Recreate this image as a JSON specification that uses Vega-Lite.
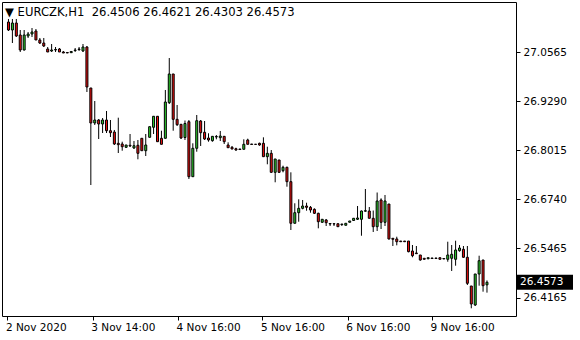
{
  "$schema": "https://vega.github.io/schema/vega-lite/v6.json",
  "autosize": "none",
  "width": 514,
  "height": 314,
  "padding": {"left": 2, "top": 2, "right": 64, "bottom": 24},
  "background": "#ffffff",
  "config": {
    "view": {"stroke": "#000000", "strokeWidth": 1},
    "axis": {"labelFont": "DejaVu Sans", "labelFontSize": 10.5, "labelColor": "#000000", "tickColor": "#000000", "grid": false, "domain": false, "title": null}
  },
  "title": {
    "text": "▼ EURCZK,H1\u00a0\u00a026.4506 26.4621 26.4303 26.4573",
    "orient": "none",
    "anchor": "start",
    "frame": "group",
    "baseline": "middle",
    "align": "left",
    "dx": 3,
    "dy": 11,
    "font": "DejaVu Sans",
    "fontSize": 11.6,
    "fontWeight": "normal",
    "color": "#000000"
  },
  "datasets": {
    "candles": [
      {"i":0,"o":27.1354,"h":27.1433,"l":27.1120,"c":27.1146},
      {"i":1,"o":27.1146,"h":27.1433,"l":27.0807,"c":27.1328},
      {"i":2,"o":27.1328,"h":27.1433,"l":27.0964,"c":27.0990},
      {"i":3,"o":27.1016,"h":27.1146,"l":27.0573,"c":27.0625},
      {"i":4,"o":27.0625,"h":27.1146,"l":27.0612,"c":27.1016},
      {"i":5,"o":27.0990,"h":27.1094,"l":27.0938,"c":27.1042},
      {"i":6,"o":27.1042,"h":27.1198,"l":27.0964,"c":27.1094},
      {"i":7,"o":27.1120,"h":27.1172,"l":27.0886,"c":27.0886},
      {"i":8,"o":27.0886,"h":27.0938,"l":27.0781,"c":27.0807},
      {"i":9,"o":27.0807,"h":27.0938,"l":27.0703,"c":27.0729},
      {"i":10,"o":27.0651,"h":27.0703,"l":27.0573,"c":27.0573},
      {"i":11,"o":27.0599,"h":27.0781,"l":27.0573,"c":27.0625},
      {"i":12,"o":27.0625,"h":27.0703,"l":27.0573,"c":27.0638},
      {"i":13,"o":27.0651,"h":27.0677,"l":27.0573,"c":27.0573},
      {"i":14,"o":27.0573,"h":27.0599,"l":27.0547,"c":27.0547},
      {"i":15,"o":27.0560,"h":27.0560,"l":27.0547,"c":27.0547},
      {"i":16,"o":27.0555,"h":27.0599,"l":27.0547,"c":27.0586},
      {"i":17,"o":27.0612,"h":27.0677,"l":27.0573,"c":27.0625},
      {"i":18,"o":27.0638,"h":27.0703,"l":27.0599,"c":27.0651},
      {"i":19,"o":27.0599,"h":27.0781,"l":27.0573,"c":27.0703},
      {"i":20,"o":27.0703,"h":27.0729,"l":26.9531,"c":26.9661},
      {"i":21,"o":26.9635,"h":26.9635,"l":26.7107,"c":26.8723},
      {"i":22,"o":26.8723,"h":26.9296,"l":26.8671,"c":26.8801},
      {"i":23,"o":26.8801,"h":26.8827,"l":26.8306,"c":26.8697},
      {"i":24,"o":26.8697,"h":26.8853,"l":26.8462,"c":26.8801},
      {"i":25,"o":26.8801,"h":26.9036,"l":26.8462,"c":26.8522},
      {"i":26,"o":26.8522,"h":26.8801,"l":26.8358,"c":26.8470},
      {"i":27,"o":26.8488,"h":26.8541,"l":26.8150,"c":26.8176},
      {"i":28,"o":26.8194,"h":26.8861,"l":26.7941,"c":26.8158},
      {"i":29,"o":26.8176,"h":26.8236,"l":26.8001,"c":26.8105},
      {"i":30,"o":26.8090,"h":26.8150,"l":26.8072,"c":26.8150},
      {"i":31,"o":26.8142,"h":26.8436,"l":26.8098,"c":26.8124},
      {"i":32,"o":26.8072,"h":26.8254,"l":26.8046,"c":26.8131},
      {"i":33,"o":26.8142,"h":26.8280,"l":26.7777,"c":26.7933},
      {"i":34,"o":26.8324,"h":26.8324,"l":26.8001,"c":26.8001},
      {"i":35,"o":26.8001,"h":26.8436,"l":26.7863,"c":26.8150},
      {"i":36,"o":26.8350,"h":26.8627,"l":26.8350,"c":26.8627},
      {"i":37,"o":26.8611,"h":26.8905,"l":26.8436,"c":26.8898},
      {"i":38,"o":26.8898,"h":26.8905,"l":26.8236,"c":26.8236},
      {"i":39,"o":26.8324,"h":26.8522,"l":26.8168,"c":26.8168},
      {"i":40,"o":26.8324,"h":26.9583,"l":26.8324,"c":26.9270},
      {"i":41,"o":26.9252,"h":27.0416,"l":26.9218,"c":27.0000},
      {"i":42,"o":27.0000,"h":27.0000,"l":26.8522,"c":26.8819},
      {"i":43,"o":26.8819,"h":26.9192,"l":26.8645,"c":26.8679},
      {"i":44,"o":26.8689,"h":26.8697,"l":26.8306,"c":26.8332},
      {"i":45,"o":26.8345,"h":26.8788,"l":26.8280,"c":26.8710},
      {"i":46,"o":26.8757,"h":26.8801,"l":26.7264,"c":26.7324},
      {"i":47,"o":26.7324,"h":26.8194,"l":26.7324,"c":26.8064},
      {"i":48,"o":26.8064,"h":26.8931,"l":26.7975,"c":26.8783},
      {"i":49,"o":26.8775,"h":26.8801,"l":26.8124,"c":26.8470},
      {"i":50,"o":26.8481,"h":26.8775,"l":26.8280,"c":26.8306},
      {"i":51,"o":26.8332,"h":26.8455,"l":26.8236,"c":26.8280},
      {"i":52,"o":26.8262,"h":26.8384,"l":26.8236,"c":26.8376},
      {"i":53,"o":26.8358,"h":26.8410,"l":26.8298,"c":26.8371},
      {"i":54,"o":26.8340,"h":26.8515,"l":26.8254,"c":26.8384},
      {"i":55,"o":26.8376,"h":26.8384,"l":26.8176,"c":26.8236},
      {"i":56,"o":26.8150,"h":26.8220,"l":26.8079,"c":26.8079},
      {"i":57,"o":26.8090,"h":26.8124,"l":26.8038,"c":26.8046},
      {"i":58,"o":26.8053,"h":26.8079,"l":26.8001,"c":26.8019},
      {"i":59,"o":26.8046,"h":26.8046,"l":26.8032,"c":26.8032},
      {"i":60,"o":26.8038,"h":26.8298,"l":26.8038,"c":26.8168},
      {"i":61,"o":26.8280,"h":26.8314,"l":26.8168,"c":26.8168},
      {"i":62,"o":26.8176,"h":26.8176,"l":26.8163,"c":26.8163},
      {"i":63,"o":26.8170,"h":26.8176,"l":26.8163,"c":26.8165},
      {"i":64,"o":26.8194,"h":26.8210,"l":26.8131,"c":26.8150},
      {"i":65,"o":26.8194,"h":26.8350,"l":26.7845,"c":26.7845},
      {"i":66,"o":26.7845,"h":26.8105,"l":26.7647,"c":26.7933},
      {"i":67,"o":26.7933,"h":26.8019,"l":26.7428,"c":26.7438},
      {"i":68,"o":26.7438,"h":26.7785,"l":26.7178,"c":26.7785},
      {"i":69,"o":26.7759,"h":26.7759,"l":26.7420,"c":26.7438},
      {"i":70,"o":26.7480,"h":26.7610,"l":26.7438,"c":26.7569},
      {"i":71,"o":26.7569,"h":26.7584,"l":26.7063,"c":26.7194},
      {"i":72,"o":26.7194,"h":26.7438,"l":26.5935,"c":26.6110},
      {"i":73,"o":26.6110,"h":26.6631,"l":26.6110,"c":26.6386},
      {"i":74,"o":26.6386,"h":26.6735,"l":26.6151,"c":26.6500},
      {"i":75,"o":26.6500,"h":26.6717,"l":26.6474,"c":26.6560},
      {"i":76,"o":26.6560,"h":26.6646,"l":26.6438,"c":26.6526},
      {"i":77,"o":26.6526,"h":26.6560,"l":26.6386,"c":26.6456},
      {"i":78,"o":26.6474,"h":26.6500,"l":26.6352,"c":26.6370},
      {"i":79,"o":26.6370,"h":26.6386,"l":26.5979,"c":26.6151},
      {"i":80,"o":26.6136,"h":26.6222,"l":26.6125,"c":26.6214},
      {"i":81,"o":26.6196,"h":26.6222,"l":26.6039,"c":26.6125},
      {"i":82,"o":26.6104,"h":26.6104,"l":26.6039,"c":26.6091},
      {"i":83,"o":26.6099,"h":26.6099,"l":26.6039,"c":26.6091},
      {"i":84,"o":26.6099,"h":26.6099,"l":26.6021,"c":26.6021},
      {"i":85,"o":26.6078,"h":26.6091,"l":26.6039,"c":26.6091},
      {"i":86,"o":26.6058,"h":26.6110,"l":26.6058,"c":26.6110},
      {"i":87,"o":26.6136,"h":26.6170,"l":26.6136,"c":26.6170},
      {"i":88,"o":26.6183,"h":26.6248,"l":26.6177,"c":26.6240},
      {"i":89,"o":26.6214,"h":26.6560,"l":26.6196,"c":26.6248},
      {"i":90,"o":26.6214,"h":26.6443,"l":26.5786,"c":26.6430},
      {"i":91,"o":26.6425,"h":26.7003,"l":26.6412,"c":26.6438},
      {"i":92,"o":26.6430,"h":26.6534,"l":26.6240,"c":26.6240},
      {"i":93,"o":26.6240,"h":26.6443,"l":26.5883,"c":26.6021},
      {"i":94,"o":26.6021,"h":26.6912,"l":26.5909,"c":26.6691},
      {"i":95,"o":26.6717,"h":26.6761,"l":26.5961,"c":26.6136},
      {"i":96,"o":26.6136,"h":26.6847,"l":26.6039,"c":26.6691},
      {"i":97,"o":26.6612,"h":26.6612,"l":26.5688,"c":26.5701},
      {"i":98,"o":26.5719,"h":26.5719,"l":26.5518,"c":26.5693},
      {"i":99,"o":26.5701,"h":26.5760,"l":26.5536,"c":26.5630},
      {"i":100,"o":26.5648,"h":26.5648,"l":26.5630,"c":26.5630},
      {"i":101,"o":26.5648,"h":26.5648,"l":26.5630,"c":26.5630},
      {"i":102,"o":26.5648,"h":26.5648,"l":26.5354,"c":26.5370},
      {"i":103,"o":26.5388,"h":26.5544,"l":26.5224,"c":26.5265},
      {"i":104,"o":26.5336,"h":26.5518,"l":26.5310,"c":26.5318},
      {"i":105,"o":26.5284,"h":26.5284,"l":26.5135,"c":26.5153},
      {"i":106,"o":26.5198,"h":26.5198,"l":26.5172,"c":26.5172},
      {"i":107,"o":26.5187,"h":26.5213,"l":26.5172,"c":26.5213},
      {"i":108,"o":26.5206,"h":26.5206,"l":26.5192,"c":26.5192},
      {"i":109,"o":26.5206,"h":26.5206,"l":26.5192,"c":26.5192},
      {"i":110,"o":26.5213,"h":26.5213,"l":26.5172,"c":26.5172},
      {"i":111,"o":26.5192,"h":26.5192,"l":26.5180,"c":26.5180},
      {"i":112,"o":26.5172,"h":26.5630,"l":26.5109,"c":26.5284},
      {"i":113,"o":26.5198,"h":26.5544,"l":26.4867,"c":26.5302},
      {"i":114,"o":26.5172,"h":26.5656,"l":26.5005,"c":26.5414},
      {"i":115,"o":26.5396,"h":26.5544,"l":26.5370,"c":26.5466},
      {"i":116,"o":26.5432,"h":26.5518,"l":26.5213,"c":26.5224},
      {"i":117,"o":26.5224,"h":26.5518,"l":26.4502,"c":26.4546},
      {"i":118,"o":26.4476,"h":26.4476,"l":26.3895,"c":26.4007},
      {"i":119,"o":26.3981,"h":26.4789,"l":26.3955,"c":26.4789},
      {"i":120,"o":26.4789,"h":26.5265,"l":26.4484,"c":26.5135},
      {"i":121,"o":26.5153,"h":26.5153,"l":26.4328,"c":26.4484},
      {"i":122,"o":26.4506,"h":26.4621,"l":26.4303,"c":26.4573}
    ],
    "last": [{"price": 26.4573, "label": "26.4573"}]
  },
  "layer": [
    {
      "data": {"name": "candles"},
      "mark": {"type": "rule", "color": "#000000", "strokeWidth": 1},
      "encoding": {
        "x": {
          "field": "i", "type": "quantitative",
          "scale": {"domain": [-0.375, 128.125], "nice": false, "zero": false},
          "axis": {
            "orient": "bottom",
            "values": [-0.25, 21.5, 43.25, 64.75, 86.5, 108],
            "labelExpr": "datum.value < 10 ? '2 Nov 2020' : datum.value < 30 ? '3 Nov 14:00' : datum.value < 50 ? '4 Nov 16:00' : datum.value < 75 ? '5 Nov 16:00' : datum.value < 95 ? '6 Nov 16:00' : '9 Nov 16:00'",
            "labelAlign": "left",
            "labelBaseline": "top",
            "labelPadding": 2,
            "labelOffset": -2,
            "labelFlush": false,
            "labelOverlap": false,
            "labelBound": false,
            "tickSize": 4
          }
        },
        "y": {
          "field": "l", "type": "quantitative",
          "scale": {"domain": [26.36943, 27.18756], "nice": false, "zero": false},
          "axis": {
            "orient": "right",
            "values": [27.0565, 26.929, 26.8015, 26.674, 26.5465, 26.4165],
            "format": ".4f",
            "tickSize": 4,
            "labelPadding": 3,
            "labelAlign": "left",
            "labelBaseline": "middle"
          }
        },
        "y2": {"field": "h"}
      }
    },
    {
      "data": {"name": "candles"},
      "mark": {"type": "bar", "size": 2, "stroke": "#000000", "strokeWidth": 1},
      "encoding": {
        "x": {"field": "i", "type": "quantitative"},
        "y": {"field": "o", "type": "quantitative"},
        "y2": {"field": "c"},
        "fill": {"condition": {"test": "datum.c >= datum.o", "value": "#2ed12e"}, "value": "#f01010"}
      }
    },
    {
      "data": {"name": "last"},
      "mark": {"type": "rule", "color": "#000000", "strokeWidth": 15, "strokeCap": "butt", "x2Offset": 57},
      "encoding": {
        "x": {"value": "width"},
        "x2": {"value": "width"},
        "y": {"field": "price", "type": "quantitative"}
      }
    },
    {
      "data": {"name": "last"},
      "mark": {"type": "text", "color": "#ffffff", "font": "DejaVu Sans", "fontSize": 10.5, "align": "left", "baseline": "middle", "dx": 4},
      "encoding": {
        "x": {"value": "width"},
        "y": {"field": "price", "type": "quantitative"},
        "text": {"field": "label"}
      }
    }
  ]
}
